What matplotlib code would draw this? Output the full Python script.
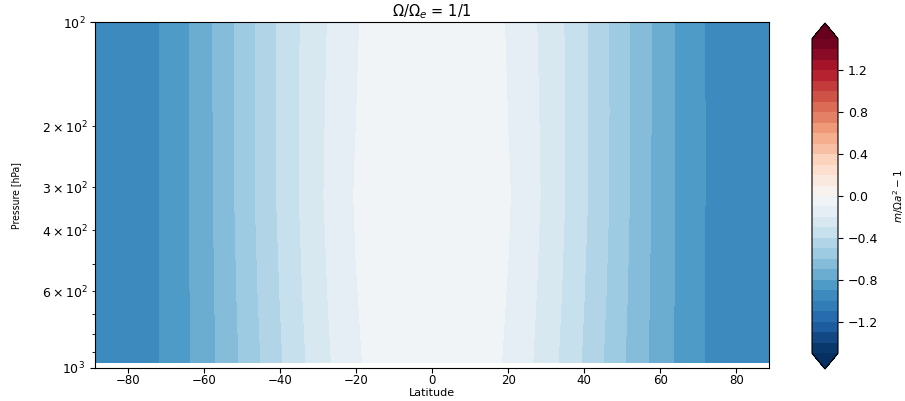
import numpy as np
import matplotlib.pyplot as plt

# latitudes 0..90 (field is close to symmetric, mirrored below)
lat_half = np.array([0, 5, 10, 15, 20, 25, 30, 35, 40, 45, 50, 55, 60, 65, 70, 75, 80, 85, 90])

# pressure levels [hPa] of the rows below
pressure = np.array([100, 180, 316, 600, 962])

z_100 = [-0.001, -0.007, -0.027, -0.062, -0.109, -0.167, -0.232, -0.305, -0.385, -0.473,
         -0.564, -0.654, -0.742, -0.819, -0.883, -0.933, -0.970, -0.992, -1.0]
z_180 = [-0.001, -0.005, -0.023, -0.056, -0.102, -0.159, -0.226, -0.302, -0.384, -0.472,
         -0.564, -0.655, -0.742, -0.818, -0.882, -0.933, -0.970, -0.992, -1.0]
z_316 = [-0.002, -0.003, -0.018, -0.049, -0.093, -0.152, -0.222, -0.301, -0.384, -0.472,
         -0.565, -0.657, -0.743, -0.818, -0.882, -0.933, -0.970, -0.992, -1.0]
z_600 = [-0.001, -0.005, -0.024, -0.058, -0.105, -0.165, -0.236, -0.315, -0.399, -0.486,
         -0.576, -0.664, -0.747, -0.820, -0.883, -0.933, -0.970, -0.992, -1.0]
z_962 = [-0.001, -0.008, -0.030, -0.067, -0.117, -0.179, -0.250, -0.329, -0.413, -0.500,
         -0.587, -0.671, -0.750, -0.821, -0.883, -0.933, -0.970, -0.992, -1.0]

levels = np.linspace(-1.5, 1.5, 31)
cbar_ticks = [-1.2, -0.8, -0.4, 0.0, 0.4, 0.8, 1.2]
lat_ticks = [-80, -60, -40, -20, 0, 20, 40, 60, 80]


def mirror(row):
    row = np.asarray(row)
    return np.concatenate([row[:0:-1], row])


lat = np.concatenate([-lat_half[:0:-1], lat_half])
Z = np.array([mirror(r) for r in (z_100, z_180, z_316, z_600, z_962)])

fig = plt.figure(figsize=(9.05, 4.01), dpi=100)
ax = fig.add_axes([0.105, 0.0823, 0.7448, 0.8628])

cf = ax.contourf(lat, pressure, Z, levels=levels, cmap='RdBu_r', extend='both')
ax.set_yscale('log')
ax.set_ylim(1000, 100)
ax.set_xlim(-88.6, 88.6)
ax.set_xticks(lat_ticks)
ax.tick_params(labelsize=9)
ax.tick_params(axis='x', labelsize=8.5, pad=1)
ax.tick_params(which='minor', labelsize=9)

ax.set_title(r'$\Omega/\Omega_e$ = 1/1', fontsize=10.5, pad=4)
ax.set_xlabel('Latitude', fontsize=8)
ax.xaxis.set_label_coords(0.5, -0.058)
ax.set_ylabel('Pressure [hPa]', fontsize=7.5, fontstretch='condensed')
ax.yaxis.set_label_coords(-0.11, 0.5)

cax = fig.add_axes([812 / 905, 32 / 401, 26 / 905, 346 / 401])
cb = fig.colorbar(cf, cax=cax, ticks=cbar_ticks)
cb.ax.tick_params(labelsize=9)
cb.set_label(r'$m/\Omega a^2 - 1$', fontsize=7.5, labelpad=9)

fig.savefig('out.png', dpi=100)
